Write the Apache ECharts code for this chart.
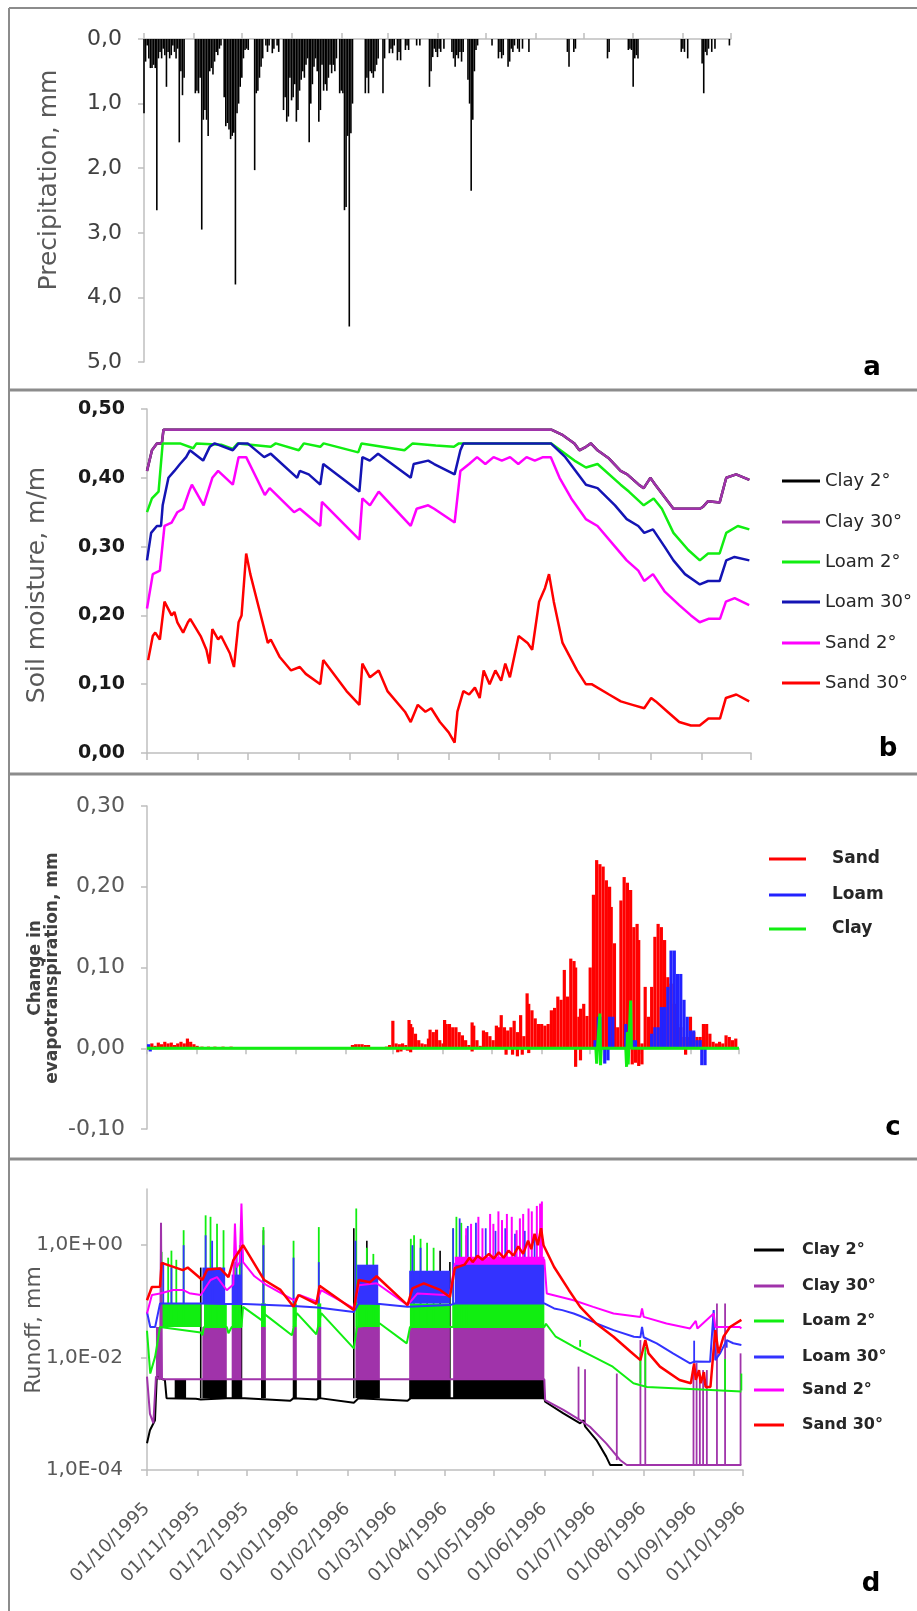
<!DOCTYPE html>
<html><head><meta charset="utf-8">
<script src="https://cdn.jsdelivr.net/npm/echarts@6/dist/echarts.min.js"></script>
<style>html,body{margin:0;padding:0;background:#fff}#c{width:917px;height:1611px}</style>
</head><body><div id="c"></div>
<script>
// ---------- axis ticks / labels ----------
const monthDays = [0,31,61,92,123,152,183,213,244,274,305,336,366];
const monthLabels = ['01/10/1995','01/11/1995','01/12/1995','01/01/1996','01/02/1996','01/03/1996','01/04/1996','01/05/1996','01/06/1996','01/07/1996','01/08/1996','01/09/1996','01/10/1996'];
const precipTickLabels = ['0,0','1,0','2,0','3,0','4,0','5,0'];
const smTickLabels = ['0,00','0,10','0,20','0,30','0,40','0,50'];
const etTickLabels = ['-0,10','0,00','0,10','0,20','0,30'];
const runoffTickValues = [0.0001, 0.01, 1];
const runoffTickLabels = ['1,0E-04','1,0E-02','1,0E+00'];

// ---------- (a) precipitation, [day, mm] ----------
const precip = [[0,1.15],[1,0.35],[2,0.1],[3,0.3],[4,0.45],[5,0.45],[6,0.4],[7,0.45],[8,2.65],[9,0.3],[10,0.2],[11,0.3],[12,0.15],[13,0.25],[14,0.74],[15,0.2],[16,0.3],[17,0.25],[18,0.1],[19,0.2],[20,0.3],[21,0.15],[22,1.6],[23,0.5],[24,0.87],[25,0.6],
[32,0.84],[33,0.8],[34,0.84],[35,0.6],[36,2.95],[37,1.25],[38,1.1],[39,1.25],[40,1.5],[41,0.5],[42,0.45],[43,0.55],[44,0.35],[45,0.2],[46,0.25],[47,0.15],[48,0.1],
[50,0.9],[51,1.35],[52,1.3],[53,1.4],[54,1.55],[55,1.5],[56,1.45],[57,3.8],[58,1.15],[59,1.0],[60,0.74],[61,0.6],[62,0.3],[63,0.17],[64,0.15],[65,0.17],
[69,2.03],[70,0.84],[71,0.8],[72,0.6],[73,0.43],[74,0.3],[76,0.1],[77,0.2],[78,0.1],[80,0.22],[81,0.15],[83,0.1],[84,0.2],
[87,1.1],[88,0.9],[89,1.28],[90,1.2],[91,0.6],[92,0.95],[93,0.9],[94,0.7],[95,1.28],[96,1.1],[97,0.8],[98,0.63],[99,0.5],[100,0.6],[101,0.4],[102,0.3],[103,1.6],[104,1.0],[105,0.7],[106,0.43],[107,0.3],[108,0.5],[109,1.28],[110,1.1],[111,0.4],[112,0.8],[113,0.7],[114,0.8],[115,0.6],[116,0.4],[117,0.53],[118,0.4],[119,0.5],[120,0.3],[122,0.84],[123,0.8],[124,0.84],[125,2.65],[126,2.6],[127,1.5],[128,4.45],[129,1.46],[130,1.0],
[138,0.84],[139,0.6],[140,0.84],[141,0.5],[142,0.53],[143,0.6],[144,0.5],[145,0.4],[146,0.3],[149,0.84],[150,0.3],[153,0.22],[154,0.15],[155,0.22],[156,0.1],[158,0.33],[159,0.2],[160,0.33],[163,0.17],[164,0.1],[165,0.17],[170,0.1],[172,0.1],[178,0.74],[179,0.5],[180,0.28],[181,0.15],[182,0.2],[183,0.28],[184,0.15],[185,0.2],[187,0.15],
[192,0.2],[193,0.3],[194,0.43],[195,0.25],[196,0.3],[197,0.2],[198,0.35],[199,0.2],[202,0.63],[203,1.0],[204,2.35],[205,1.25],[206,0.5],[207,0.17],[208,0.1],[217,0.1],[221,0.3],[222,0.2],[223,0.3],[224,0.25],[227,0.43],[228,0.35],[229,0.15],[230,0.2],[231,0.1],[233,0.15],[234,0.2],[236,0.15],[240,0.2],
[264,0.2],[265,0.43],[268,0.2],[269,0.15],[289,0.3],[290,0.2],[302,0.17],[303,0.15],[304,0.17],[305,0.74],[306,0.3],[307,0.25],[308,0.3],[335,0.2],[336,0.15],[337,0.2],[339,0.3],[348,0.38],[349,0.84],[350,0.2],[351,0.25],[352,0.15],[354,0.2],[356,0.15],[365,0.1]];

// ---------- (b) soil moisture, [day, m/m] ----------
const clay2SM = [[0,0.41],[3,0.44],[6,0.45],[9,0.45],[10,0.47],[245,0.47],[252,0.462],[259,0.45],[262,0.44],[266,0.445],[269,0.45],[273,0.44],[280,0.428],[287,0.41],[291,0.405],[298,0.39],[301,0.385],[305,0.40],[308,0.39],[319,0.355],[335,0.355],[337,0.358],[340,0.366],[347,0.364],[351,0.40],[357,0.405],[365,0.397]];
const clay30SM = [[0,0.41],[3,0.44],[6,0.45],[9,0.45],[10,0.47],[245,0.47],[252,0.462],[259,0.45],[262,0.44],[266,0.445],[269,0.45],[273,0.44],[280,0.428],[287,0.41],[291,0.405],[298,0.39],[301,0.385],[305,0.40],[308,0.39],[319,0.355],[335,0.355],[337,0.358],[340,0.366],[347,0.364],[351,0.40],[357,0.405],[365,0.397]];
const loam2SM = [[0,0.35],[3,0.37],[7,0.38],[9.5,0.45],[20,0.45],[28,0.443],[30,0.45],[45,0.448],[52,0.442],[55,0.45],[75,0.445],[78,0.45],[92,0.44],[95,0.45],[105,0.445],[107,0.45],[128,0.437],[130,0.45],[156,0.44],[161,0.45],[175,0.447],[186,0.445],[189,0.45],[245,0.45],[259,0.425],[266,0.415],[273,0.42],[287,0.39],[292,0.38],[301,0.36],[307,0.37],[312,0.355],[319,0.32],[328,0.295],[335,0.28],[340,0.29],[347,0.29],[351,0.32],[358,0.33],[365,0.325]];
const loam30SM = [[0,0.28],[2.5,0.32],[6,0.33],[8.5,0.33],[9.5,0.36],[13,0.40],[16.6,0.41],[20,0.42],[23.7,0.43],[26,0.44],[34,0.425],[38,0.445],[41,0.45],[52,0.44],[55.5,0.45],[61,0.45],[71,0.43],[75,0.435],[91,0.40],[92.6,0.41],[98,0.405],[105,0.39],[106.8,0.42],[128.7,0.38],[130.5,0.43],[135,0.425],[140,0.435],[159.8,0.40],[161.6,0.42],[170.4,0.425],[174,0.42],[186.4,0.405],[189.9,0.44],[191.7,0.45],[244.7,0.45],[253.5,0.43],[266,0.39],[273,0.385],[283.6,0.36],[290.7,0.34],[297.7,0.33],[301.3,0.32],[306.6,0.325],[313.6,0.30],[319,0.28],[326,0.26],[335,0.245],[340,0.25],[347,0.25],[351,0.28],[356,0.285],[365,0.28]];
const sand2SM = [[0,0.21],[3.5,0.26],[7.8,0.265],[10.6,0.33],[14.9,0.335],[18.4,0.35],[21.9,0.355],[25.5,0.38],[27.2,0.39],[34.3,0.36],[39.6,0.40],[43.1,0.41],[52,0.39],[55.5,0.43],[60.1,0.43],[71.4,0.375],[74.3,0.385],[89.1,0.35],[92.6,0.355],[105,0.33],[106,0.365],[128.7,0.31],[130.5,0.37],[135.1,0.36],[140.4,0.38],[159.8,0.33],[163.4,0.355],[170.4,0.36],[174,0.355],[186.4,0.335],[189.9,0.41],[195.2,0.42],[200,0.43],[205,0.42],[210,0.43],[215,0.425],[220,0.43],[225,0.42],[230,0.43],[235,0.425],[240,0.43],[244.7,0.43],[250,0.40],[257.1,0.37],[265.9,0.34],[273,0.33],[283.6,0.30],[290.7,0.28],[297.7,0.265],[301.3,0.25],[306.6,0.26],[313.6,0.235],[322.5,0.215],[329.6,0.20],[334.9,0.19],[340.2,0.195],[347.2,0.195],[350.8,0.22],[356.1,0.225],[364.9,0.215]];
const sand30SM = [[0.7,0.135],[3.5,0.17],[5,0.175],[7.8,0.165],[10.6,0.22],[14.9,0.20],[16.6,0.205],[18.4,0.19],[21.9,0.175],[24.8,0.19],[26.2,0.195],[32.5,0.17],[36,0.15],[37.8,0.13],[39.6,0.18],[43.1,0.165],[44.9,0.17],[50.2,0.145],[52.7,0.125],[55.5,0.19],[57.3,0.20],[60.1,0.29],[62.6,0.26],[67.9,0.21],[73.2,0.16],[75,0.165],[80.3,0.14],[87.3,0.12],[92.6,0.125],[96.2,0.115],[105,0.10],[106.8,0.135],[120.9,0.09],[128.7,0.07],[130.5,0.13],[135.1,0.11],[140.4,0.12],[145.7,0.09],[156.3,0.06],[159.8,0.045],[164.1,0.07],[168.7,0.06],[172.2,0.065],[177.5,0.045],[182.8,0.03],[186.4,0.015],[188.1,0.06],[191.7,0.09],[195.2,0.085],[198.7,0.095],[201.6,0.08],[204,0.12],[207.6,0.10],[211.1,0.12],[214.6,0.105],[217.1,0.13],[219.9,0.11],[225.2,0.17],[230.6,0.16],[233.4,0.15],[237.6,0.22],[241.2,0.24],[243.6,0.26],[246.5,0.22],[251.8,0.16],[260.6,0.12],[265.9,0.10],[269.4,0.10],[280,0.085],[287.1,0.075],[294.2,0.07],[301.3,0.065],[305.5,0.08],[308.3,0.075],[315.4,0.06],[322.5,0.045],[329.6,0.04],[334.9,0.04],[340.2,0.05],[347.2,0.05],[350.8,0.08],[357.1,0.085],[364.9,0.075]];

// ---------- (c) change in evapotranspiration, [day, mm] ----------
const sandET = [[1,0.004],[3,0.006],[5,0.003],[7,0.007],[9,0.005],[11,0.008],[13,0.006],[15,0.007],[17,0.004],[19,0.006],[21,0.008],[23,0.006],[25,0.012],[27,0.008],[29,0.005],[31,0.003],[34,0.002],[38,0.002],[42,0.002],[47,0.002],[52,0.002],[60,0.001],[73,0.001],[104,0.001],[127,0.004],[129,0.005],[131,0.005],[133,0.005],[135,0.004],[137,0.004],[148,0.002],[150,0.004],[152,0.034],[154,0.006],[156,0.005],[158,0.006],[160,0.004],[162,0.035],[163,0.03],[164,0.026],[166,0.018],[168,0.01],[170,0.006],[172,0.005],[174,0.012],[175,0.023],[177,0.02],[179,0.023],[181,0.01],[183,0.006],[184,0.035],[185,0.03],[187,0.03],[189,0.026],[191,0.026],[193,0.02],[195,0.016],[197,0.01],[199,0.004],[201,0.032],[202,0.028],[204,0.01],[206,0.003],[208,0.022],[210,0.02],[212,0.015],[214,0.01],[216,0.028],[218,0.026],[219,0.041],[221,0.026],[223,0.022],[225,0.026],[227,0.034],[229,0.02],[231,0.041],[233,0.015],[235,0.068],[236,0.055],[238,0.047],[240,0.037],[242,0.03],[244,0.03],[246,0.028],[248,0.03],[250,0.047],[252,0.05],[254,0.064],[256,0.06],[258,0.097],[260,0.064],[262,0.111],[264,0.108],[265,0.1],[267,0.039],[268,0.049],[270,0.055],[272,0.04],[274,0.1],[276,0.19],[278,0.233],[280,0.228],[282,0.225],[284,0.208],[286,0.2],[287,0.175],[289,0.13],[291,0.026],[293,0.183],[295,0.212],[297,0.205],[299,0.196],[301,0.15],[303,0.154],[304,0.134],[306,0.006],[308,0.076],[310,0.039],[312,0.076],[314,0.138],[316,0.154],[318,0.15],[320,0.134],[322,0.088],[324,0.08],[326,0.055],[328,0.03],[330,0.026],[332,0.014],[334,0.014],[336,0.039],[338,0.02],[340,0.014],[342,0.014],[344,0.03],[346,0.03],[348,0.018],[350,0.008],[352,0.006],[354,0.008],[356,0.006],[358,0.016],[360,0.014],[362,0.01],[364,0.012],
[155,-0.005],[157,-0.004],[161,-0.003],[163,-0.005],[201,-0.004],[222,-0.008],[226,-0.008],[229,-0.01],[232,-0.008],[236,-0.006],[265,-0.023],[268,-0.015],[300,-0.02],[302,-0.018],[304,-0.022],[306,-0.02],[333,-0.008]];
const loamET = [[1,0.005],[2,-0.004],[277,0.01],[279,0.039],[280,0.039],[283,-0.019],[285,-0.015],[286,0.039],[288,0.039],[296,0.03],[297,-0.01],[300,0.01],[302,0.01],[312,0.018],[314,0.026],[316,0.026],[318,0.051],[320,0.051],[322,0.076],[324,0.121],[326,0.121],[328,0.092],[330,0.092],[332,0.06],[334,0.039],[336,0.022],[338,0.022],[340,0.01],[342,0.01],[343,-0.021],[345,-0.021]];
const clayET = [[0,0],[277.5,0],[278,-0.019],[278.5,0],[280,0.043],[280.4,-0.021],[280.8,0],[296,0],[296.5,-0.023],[297,0.02],[297.5,-0.02],[298,0.01],[299,0.059],[299.5,0],[366,0]];

// ---------- (d) runoff, lines [day, mm], bands [day0, day1, low, high], spikes [day, low, high] ----------
const clay2Runoff = [[0,0.0003],[1.8,0.00051],[4.9,0.00077],[6,0.0045],[11,0.004],[12,0.0019],[30,0.00185],[33,0.0018],[34,0.0019],[49,0.0019],[60,0.0019],[88,0.0017],[90,0.0019],[104,0.0018],[106,0.0019],[127,0.00157],[130,0.0019],[160,0.0017],[162,0.0019],[244,0.0019],[244.5,0.00164],[255.7,0.00102],[266,0.000676],[268,0.00077],[269,0.0006],[276,0.000341],[282,0.000173],[284.4,0.000123],[292,0.000123]];
const clay2Bands = [[17,24,0.0019,0.0041],[34,49,0.0019,0.0041],[52,58,0.0019,0.0041],[70,73,0.0019,0.0041],[89.5,92,0.0019,0.0041],[104.5,107,0.0019,0.0041],[128,143,0.0019,0.0041],[161,186,0.0019,0.0041],[188,244,0.0019,0.0041]];
const clay2Spikes = [[33,0.0019,0.4],[58,0.0019,1.0],[71.5,0.0019,1.85],[127,0.0019,2.0],[135,0.0019,1.2],[180,0.0019,0.8],[186,0.0019,0.5]];
const clay30Runoff = [[0,0.0046],[1.8,0.001],[3.9,0.00068],[5.5,0.0046],[8,0.0041],[8.6,2.5],[9.2,0.0041],[16,0.0041],[244,0.0041],[244.5,0.00175],[255.7,0.00117],[266,0.000774],[272,0.000589],[282,0.000298],[290.5,0.000151],[294.6,0.000123],[365,0.000123]];
const clay30Bands = [[5.5,8,0.0041,0.035],[34,49,0.0041,0.035],[52,58,0.0041,0.035],[70,73,0.0041,0.035],[89.5,92,0.0041,0.035],[104.5,107,0.0041,0.035],[128,143,0.0041,0.035],[161,186,0.0041,0.035],[188,244,0.0041,0.035]];
const clay30Spikes = [[265,0.00077,0.0069],[269,0.0006,0.0062],[288.5,0.00015,0.0052],[303,0.000123,0.0205],[306,0.000123,0.0119],[335.6,0.000123,0.0069],[337.5,0.000123,0.008],[339.5,0.000123,0.0052],[341.5,0.000123,0.006],[343.8,0.000123,0.006],[350,0.000123,0.092],[355,0.000123,0.092],[364.5,0.000123,0.0119]];
const loam2Runoff = [[0,0.03],[2,0.0052],[5,0.0104],[8,0.035],[33,0.028],[34,0.025],[35,0.035],[49,0.035],[50,0.027],[52,0.035],[58,0.035],[59,0.08],[71,0.045],[72,0.06],[89,0.025],[92,0.062],[104,0.026],[107,0.062],[127,0.0146],[129,0.035],[143,0.0405],[159.5,0.0179],[161.5,0.035],[244,0.035],[245,0.04],[251,0.0235],[262,0.0156],[274,0.0104],[286,0.0069],[298.7,0.0035],[307,0.003],[340,0.0027],[365,0.0025]];
const loam2Bands = [[8,33,0.035,0.092],[35,49,0.035,0.092],[52,58,0.035,0.092],[70,73,0.035,0.092],[89.5,92,0.035,0.092],[104.5,107,0.035,0.092],[129,143,0.035,0.092],[161.5,186,0.035,0.092],[188,244,0.035,0.092]];
const loam2Spikes = [[9,0.035,0.76],[13,0.035,0.6],[15,0.035,0.8],[18,0.035,0.55],[22.5,0.035,1.85],[36,0.035,3.4],[39,0.035,3.2],[43,0.035,2.4],[47,0.035,1.85],[54,0.035,0.5],[57,0.035,1.0],[71.5,0.035,2.1],[90,0.035,1.2],[105.5,0.035,2.1],[128.5,0.035,4.5],[135,0.035,0.9],[139,0.035,0.7],[162,0.035,1.3],[164,0.035,1.5],[168,0.035,1.3],[172,0.035,1.1],[176,0.035,0.9],[188,0.035,2.0],[190,0.035,3.2],[193,0.035,2.5],[196,0.035,1.5],[266,0.0156,0.0205],[303,0.0035,0.0119],[306,0.003,0.0156],[355,0.0026,0.0094],[365,0.0026,0.0052]];
const loam30Runoff = [[0,0.065],[2,0.035],[5,0.035],[8,0.092],[33,0.092],[49,0.09],[60,0.09],[90,0.083],[105,0.078],[127,0.065],[130,0.092],[143,0.09],[160,0.08],[186,0.086],[189,0.092],[244,0.092],[245,0.086],[250,0.075],[255,0.07],[262,0.061],[266,0.055],[276,0.0405],[286.5,0.0308],[299,0.0235],[303,0.023],[304,0.035],[305,0.023],[313,0.0179],[323,0.0119],[333.5,0.0079],[336,0.0085],[345.8,0.0084],[348,0.07],[349,0.009],[352,0.012],[356,0.0205],[360,0.018],[365,0.0167]];
const loam30Bands = [[34,48,0.092,0.4],[52,58,0.092,0.3],[129,142,0.092,0.45],[161,186,0.092,0.35],[189,244,0.092,0.47]];
const loam30Spikes = [[10,0.092,0.5],[15,0.092,0.4],[22.5,0.092,1.0],[36,0.092,1.5],[40,0.092,1.2],[55,0.092,0.8],[58,0.092,1.0],[71.5,0.092,1.0],[90,0.092,0.6],[105.5,0.092,0.5],[128,0.092,1.2],[163,0.092,1.0],[168,0.092,0.9],[188,0.092,2.0],[192,0.47,3.0],[197,0.47,2.2],[202,0.47,2.5],[208,0.47,2.0],[214,0.47,1.8],[220,0.47,2.0],[226,0.47,1.6],[232,0.47,1.8],[238,0.47,1.5],[336,0.008,0.02],[356,0.015,0.02]];
const sand2Runoff = [[0,0.061],[3,0.13],[8,0.138],[16,0.16],[22,0.16],[26,0.14],[33,0.13],[39,0.24],[43,0.27],[49,0.158],[53,0.2],[54,2.43],[55,0.4],[57,0.5],[58,5.5],[59,0.5],[66,0.28],[73.5,0.194],[90,0.105],[94,0.129],[104,0.1],[107,0.158],[127,0.075],[130,0.194],[141,0.21],[160,0.086],[166,0.138],[186,0.129],[189,0.47],[244,0.55],[245.5,0.138],[262,0.105],[274,0.08],[286.5,0.061],[303,0.053],[304,0.075],[305,0.053],[319,0.0405],[333.5,0.033],[337,0.045],[338,0.033],[348,0.061],[349,0.035],[364,0.035],[365,0.033]];
const sand2Bands = [[189,244,0.45,0.62]];
const sand2Spikes = [[196,0.55,2.0],[199,0.55,2.4],[203.5,0.55,3.2],[206,0.55,2.0],[210.7,0.55,3.6],[212.7,0.55,2.4],[215.8,0.55,4.0],[218,0.55,2.8],[221,0.55,3.6],[224,0.55,3.2],[227,0.55,1.85],[229,0.55,3.0],[231,0.55,3.6],[234.3,0.55,4.5],[236.3,0.55,4.0],[239.4,0.55,5.0],[241.4,0.55,5.5],[242.5,0.55,6.0]];
const sand30Runoff = [[0,0.105],[3,0.18],[8,0.182],[9,0.485],[22,0.36],[25,0.4],[34,0.24],[37,0.37],[45,0.385],[50,0.27],[53,0.54],[59,1.0],[72,0.24],[82,0.16],[90,0.08],[93,0.13],[104,0.09],[106,0.19],[127,0.07],[130,0.24],[137,0.22],[141,0.28],[160,0.086],[163,0.17],[170,0.21],[180,0.16],[186,0.12],[189,0.39],[195,0.45],[198,0.6],[200,0.5],[203,0.65],[206,0.55],[210,0.7],[213,0.58],[216,0.75],[219,0.6],[222,0.8],[225,0.65],[228,0.95],[231,0.7],[234,1.2],[236,0.85],[238,1.6],[240,1.0],[242,2.0],[243.5,1.0],[250,0.41],[259,0.16],[266,0.08],[276,0.04],[286.5,0.0235],[297,0.0127],[303,0.009],[306,0.0205],[308,0.0119],[315,0.0069],[327,0.004],[334,0.0035],[336,0.0079],[337,0.004],[339,0.006],[340,0.0035],[342,0.0055],[343,0.003],[346,0.003],[349,0.031],[351,0.0119],[354,0.0235],[358,0.035],[365,0.047]];

// ---------- styling ----------
const FF = 'DejaVu Sans';
const AX = '#bfbfbf';
const C = {clay2:'#000000', clay30:'#a033aa', loam2:'#11ee11', loam30b:'#1414b4', loam30:'#3333ff', sand2:'#ff00ff', sand30:'#ff0000'};

function xAx(grid, pos, showLabels, tickLen){
  return {gridIndex:grid, type:'value', min:0, max:366, interval:30.5, position:pos,
    axisLine:{show:true, onZero: grid===2, lineStyle:{color:AX, width:1.5}},
    axisTick:{show:true, length:tickLen, customValues:monthDays, lineStyle:{color:AX, width:1.5}},
    axisLabel: showLabels ? {show:true, customValues:monthDays, rotate:45, margin:36, fontFamily:FF, fontSize:18, color:'#595959',
      formatter:(v)=>{const i=monthDays.indexOf(Math.round(v)); return i<0?'':monthLabels[i];}} : {show:false},
    splitLine:{show:false}};
}
function yLin(grid, min, max, interval, labels, font, extra){
  return Object.assign({gridIndex:grid, type:'value', min, max, interval,
    axisLine:{show:true, lineStyle:{color:AX, width:1.5}},
    axisTick:{show:true, length:6, lineStyle:{color:AX, width:1.5}},
    axisLabel:Object.assign({margin:22, fontFamily:FF, formatter:(v)=>labels[Math.round((v-min)/interval)]}, font),
    splitLine:{show:false}}, extra||{});
}
function line(name, data, color, xi, w){
  return {type:'line', name, data, xAxisIndex:xi, yAxisIndex:xi, showSymbol:false, symbol:'none', silent:true,
    lineStyle:{color, width:w}, itemStyle:{color}};
}
function bands(data, color){
  return {type:'custom', xAxisIndex:3, yAxisIndex:3, data, silent:true, encode:{x:[0,1], y:[2,3]},
    renderItem:(p, api)=>{const a=api.coord([api.value(0), api.value(3)]); const b=api.coord([api.value(1), api.value(2)]);
      return {type:'rect', shape:{x:a[0], y:a[1], width:b[0]-a[0], height:b[1]-a[1]}, style:{fill:color}};}};
}
function spikes(data, color, w){
  return {type:'custom', xAxisIndex:3, yAxisIndex:3, data, silent:true, encode:{x:0, y:[1,2]},
    renderItem:(p, api)=>{const a=api.coord([api.value(0), api.value(1)]); const b=api.coord([api.value(0), api.value(2)]);
      return {type:'line', shape:{x1:a[0], y1:a[1], x2:b[0], y2:b[1]}, style:{stroke:color, lineWidth:w}};}};
}
function leg(name, color, left, yc, w, font, pad){
  const lh = font.fontSize + 2;
  return {show:true, selectedMode:false, orient:'horizontal', left, top:yc - lh/2, padding:0, itemWidth:w, itemHeight:3,
    data:[{name, icon:'rect', itemStyle:{color, borderWidth:0}}],
    textStyle:Object.assign({fontFamily:FF, lineHeight:lh, color:'#262626', padding:[0,0,0,pad]}, font)};
}

const bFont = {fontSize:18};
const cFont = {fontSize:17, fontWeight:'bold'};
const dFont = {fontSize:16, fontWeight:'bold'};

const option = {
  animation:false,
  backgroundColor:'#ffffff',
  grid:[
    {left:144, top:39, width:587, height:323},
    {left:147, top:409, width:604, height:344},
    {left:147, top:806, width:592, height:323},
    {left:147, top:1189, width:596, height:281}
  ],
  xAxis:[ xAx(0,'top',false,6), xAx(1,'bottom',false,7), xAx(2,'bottom',false,6), xAx(3,'bottom',true,6) ],
  yAxis:[
    yLin(0,0,5,1,precipTickLabels,{fontSize:22, color:'#404040'},{inverse:true}),
    yLin(1,0,0.5,0.1,smTickLabels,{fontSize:19, fontWeight:'bold', color:'#1a1a1a'}),
    yLin(2,-0.1,0.3,0.1,etTickLabels,{fontSize:22, color:'#595959'}),
    {gridIndex:3, type:'log', logBase:10, min:0.0001, max:10,
      axisLine:{show:true, lineStyle:{color:AX, width:1.5}},
      axisTick:{show:true, length:6, customValues:runoffTickValues, lineStyle:{color:AX, width:1.5}},
      axisLabel:{margin:24, fontFamily:FF, fontSize:20, color:'#595959', customValues:runoffTickValues,
        formatter:(v)=>{const i=runoffTickValues.findIndex(t=>Math.abs(Math.log10(t)-Math.log10(v))<0.01); return i<0?'':runoffTickLabels[i];}},
      splitLine:{show:false}}
  ],
  legend:[
    leg('Clay 2°',C.clay2,782,481,38,bFont,0), leg('Clay 30°',C.clay30,782,522,38,bFont,0), leg('Loam 2°',C.loam2,782,562,38,bFont,0),
    leg('Loam 30°',C.loam30b,782,602,38,bFont,0), leg('Sand 2°',C.sand2,782,643,38,bFont,0), leg('Sand 30°',C.sand30,782,683,38,bFont,0),
    leg('Sand','#ff0000',769,859,37,cFont,21), leg('Loam','#2222ff',769,895,37,cFont,21), leg('Clay','#11ee11',769,929,37,cFont,21),
    leg('Clay 2°',C.clay2,754,1250,30,dFont,13), leg('Clay 30°',C.clay30,754,1286,30,dFont,13), leg('Loam 2°',C.loam2,754,1321,30,dFont,13),
    leg('Loam 30°',C.loam30,754,1357,30,dFont,13), leg('Sand 2°',C.sand2,754,1390,30,dFont,13), leg('Sand 30°',C.sand30,754,1425,30,dFont,13)
  ],
  series:[
    // (a)
    {type:'bar', name:'Precipitation', data:precip, xAxisIndex:0, yAxisIndex:0, barWidth:1.6, itemStyle:{color:'#000'}, silent:true},
    // (b)
    line('Clay 2°', clay2SM, C.clay2, 1, 2.5),
    line('Clay 30°', clay30SM, C.clay30, 1, 2.5),
    line('Loam 2°', loam2SM, C.loam2, 1, 2.5),
    line('Loam 30°', loam30SM, C.loam30b, 1, 2.5),
    line('Sand 2°', sand2SM, C.sand2, 1, 2.5),
    line('Sand 30°', sand30SM, C.sand30, 1, 2.5),
    // (c)
    {type:'bar', name:'Sand', data:sandET, xAxisIndex:2, yAxisIndex:2, barWidth:3.2, barGap:'-100%', itemStyle:{color:'#ff0000'}, silent:true},
    {type:'bar', name:'Loam', data:loamET, xAxisIndex:2, yAxisIndex:2, barWidth:3.2, barGap:'-100%', itemStyle:{color:'#2222ff'}, silent:true},
    line('Clay', clayET, '#11ee11', 2, 3),
    // (d)
    bands(clay2Bands, C.clay2), spikes(clay2Spikes, C.clay2, 1.6), line('Clay 2°', clay2Runoff, C.clay2, 3, 2),
    bands(clay30Bands, C.clay30), spikes(clay30Spikes, C.clay30, 1.8), line('Clay 30°', clay30Runoff, C.clay30, 3, 2),
    bands(loam2Bands, C.loam2), spikes(loam2Spikes, C.loam2, 1.8), line('Loam 2°', loam2Runoff, C.loam2, 3, 2),
    bands(loam30Bands, C.loam30), spikes(loam30Spikes, C.loam30, 1.8), line('Loam 30°', loam30Runoff, C.loam30, 3, 2),
    bands(sand2Bands, C.sand2), spikes(sand2Spikes, C.sand2, 2), line('Sand 2°', sand2Runoff, C.sand2, 3, 2),
    line('Sand 30°', sand30Runoff, C.sand30, 3, 2.5)
  ],
  graphic:[
    {type:'line', shape:{x1:9, y1:8, x2:917, y2:8}, style:{stroke:'#8c8c8c', lineWidth:2}, silent:true},
    {type:'line', shape:{x1:9, y1:8, x2:9, y2:1611}, style:{stroke:'#8c8c8c', lineWidth:2}, silent:true},
    {type:'line', shape:{x1:9, y1:390, x2:917, y2:390}, style:{stroke:'#8c8c8c', lineWidth:3}, silent:true},
    {type:'line', shape:{x1:9, y1:774, x2:917, y2:774}, style:{stroke:'#8c8c8c', lineWidth:3}, silent:true},
    {type:'line', shape:{x1:9, y1:1159, x2:917, y2:1159}, style:{stroke:'#8c8c8c', lineWidth:3}, silent:true},
    {type:'text', x:49, y:180, rotation:Math.PI/2, style:{text:'Precipitation, mm', font:'25px "DejaVu Sans"', fill:'#595959', textAlign:'center', textVerticalAlign:'middle'}},
    {type:'text', x:37, y:585, rotation:Math.PI/2, style:{text:'Soil moisture, m/m', font:'25px "DejaVu Sans"', fill:'#595959', textAlign:'center', textVerticalAlign:'middle'}},
    {type:'text', x:44, y:968, rotation:Math.PI/2, style:{text:'Change in\nevapotranspiration, mm', font:'bold 17px "DejaVu Sans"', lineHeight:17, fill:'#404040', textAlign:'center', textVerticalAlign:'middle'}},
    {type:'text', x:34, y:1330, rotation:Math.PI/2, style:{text:'Runoff, mm', font:'22px "DejaVu Sans"', fill:'#595959', textAlign:'center', textVerticalAlign:'middle'}},
    {type:'text', x:872, y:368, style:{text:'a', font:'bold 26px "DejaVu Sans"', fill:'#000', textAlign:'center', textVerticalAlign:'middle'}},
    {type:'text', x:888, y:749, style:{text:'b', font:'bold 26px "DejaVu Sans"', fill:'#000', textAlign:'center', textVerticalAlign:'middle'}},
    {type:'text', x:893, y:1128, style:{text:'c', font:'bold 26px "DejaVu Sans"', fill:'#000', textAlign:'center', textVerticalAlign:'middle'}},
    {type:'text', x:871, y:1584, style:{text:'d', font:'bold 26px "DejaVu Sans"', fill:'#000', textAlign:'center', textVerticalAlign:'middle'}}
  ]
};
const chart = echarts.init(document.getElementById('c'), null, {renderer:'canvas'});
chart.setOption(option);
</script></body></html>
